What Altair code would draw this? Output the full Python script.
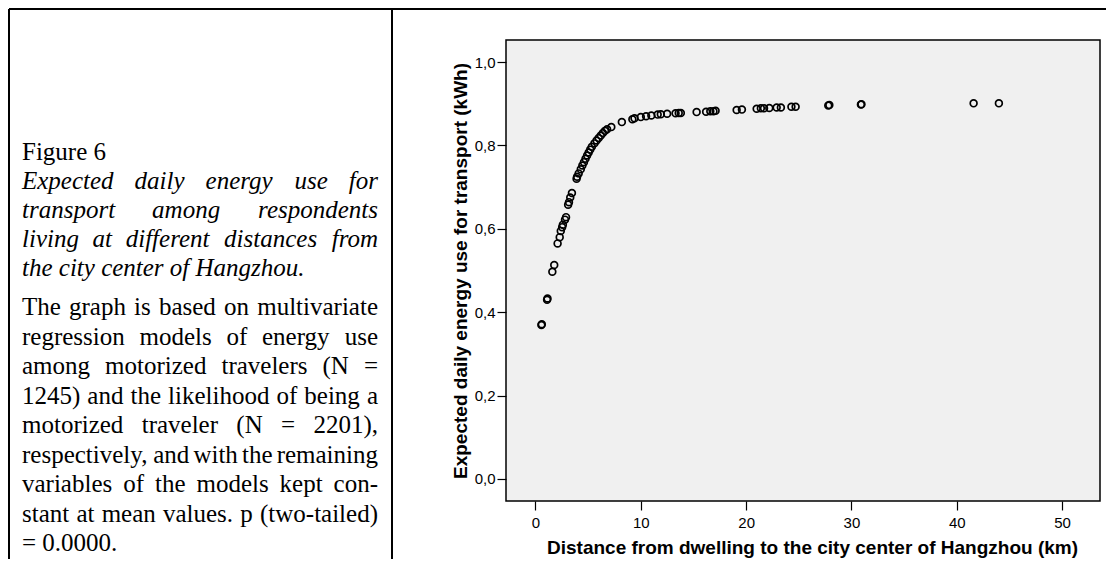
import altair as alt
import pandas as pd

# ---------------- data ----------------
distance_km = [0.56, 0.6, 1.1, 1.14, 1.6, 1.78, 2.1, 2.3, 2.4, 2.53, 2.6, 2.8, 2.9,
               3.1, 3.18, 3.3, 3.46, 3.9, 3.95, 4.1, 4.3, 4.45, 4.6, 4.75, 4.9, 5.05,
               5.2, 5.35, 5.6, 5.8, 6.0, 6.2, 6.4, 6.6, 6.8, 7.2, 8.2, 9.2, 9.4, 10.0,
               10.5, 11.0, 11.6, 11.9, 12.5, 13.3, 13.6, 13.8, 15.3, 16.2, 16.6, 16.9,
               17.1, 19.1, 19.6, 21.0, 21.4, 21.7, 22.2, 22.9, 23.3, 24.3, 24.7, 27.8,
               27.9, 30.9, 30.95, 41.6, 44.0]
energy_kwh = [0.369, 0.371, 0.430, 0.433, 0.497, 0.513, 0.565, 0.580, 0.595, 0.604,
              0.610, 0.622, 0.628, 0.658, 0.664, 0.675, 0.686, 0.720, 0.725, 0.733,
              0.743, 0.752, 0.760, 0.768, 0.776, 0.783, 0.790, 0.797, 0.805, 0.812,
              0.818, 0.824, 0.830, 0.835, 0.839, 0.844, 0.856, 0.863, 0.865, 0.868,
              0.870, 0.872, 0.874, 0.875, 0.876, 0.877, 0.878, 0.878, 0.880, 0.881,
              0.882, 0.882, 0.883, 0.885, 0.886, 0.888, 0.889, 0.889, 0.890, 0.891,
              0.891, 0.893, 0.893, 0.896, 0.897, 0.898, 0.899, 0.901, 0.901]
x_ticks = [0, 10, 20, 30, 40, 50]
y_ticks = [0.0, 0.2, 0.4, 0.6, 0.8, 1.0]
x_title = "Distance from dwelling to the city center of Hangzhou (km)"
y_title = "Expected daily energy use for transport (kWh)"

caption_head = "Figure 6"
caption_italic = ["Expected daily energy use for",
                  "transport among respondents",
                  "living at different distances from",
                  "the city center of Hangzhou."]
caption_body = ["The graph is based on multivariate",
                "regression models of energy use",
                "among motorized travelers (N =",
                "1245) and the likelihood of being a",
                "motorized traveler (N = 2201),",
                "respectively, and with the remaining",
                "variables of the models kept con-",
                "stant at mean values. p (two-tailed)",
                "= 0.0000."]

# ---------------- layout ----------------
PLOT_LEFT, PLOT_TOP = 506, 40
PLOT_W, PLOT_H = 594, 461
FONT_SIZE = 25
TEXT_L, TEXT_R = 22, 378

ROMAN = dict(zip("ABCDEFGHIJKLMNOPQRSTUVWXYZ",
                 [722, 667, 667, 722, 611, 556, 722, 722, 333, 389, 722, 611, 889,
                  722, 722, 556, 722, 667, 556, 611, 722, 722, 944, 722, 722, 611]))
ROMAN.update(dict(zip("abcdefghijklmnopqrstuvwxyz",
                      [444, 500, 444, 500, 444, 333, 500, 500, 278, 278, 500, 278, 778,
                       500, 500, 500, 500, 333, 389, 278, 500, 500, 722, 500, 500, 444])))
ROMAN.update({c: 500 for c in "0123456789"})
ROMAN.update({" ": 250, ",": 250, ".": 250, "-": 333, "(": 333, ")": 333, "=": 564})
ITALIC = dict(ROMAN)
ITALIC.update(dict(zip("abcdefghijklmnopqrstuvwxyz",
                       [500, 500, 444, 500, 444, 278, 500, 500, 278, 278, 444, 278, 722,
                        500, 500, 500, 500, 389, 389, 278, 500, 444, 667, 444, 444, 389])))


def width(word, table):
    return sum(table.get(c, 500) for c in word) / 1000 * FONT_SIZE


rows = []


def add_line(line, y, style, justify):
    table = ITALIC if style == "italic" else ROMAN
    words = line.split(" ")
    if not justify or len(words) == 1:
        rows.append(dict(word=line, px=TEXT_L - PLOT_LEFT, py=y - PLOT_TOP,
                         style=style, align="left"))
        return
    ws = [width(w, table) for w in words]
    gap = (TEXT_R - TEXT_L - sum(ws)) / (len(words) - 1)
    x = TEXT_L
    for i, w in enumerate(words):
        if i == len(words) - 1:
            rows.append(dict(word=w, px=TEXT_R - PLOT_LEFT, py=y - PLOT_TOP,
                             style=style, align="right"))
        else:
            rows.append(dict(word=w, px=x - PLOT_LEFT, py=y - PLOT_TOP,
                             style=style, align="left"))
        x += ws[i] + gap


add_line(caption_head, 152, "normal", False)
y = 152
for i, line in enumerate(caption_italic):
    y += 29
    add_line(line, y, "italic", i < len(caption_italic) - 1)
y += 39
for i, line in enumerate(caption_body):
    add_line(line, y, "normal", i < len(caption_body) - 1)
    y += 29.5

words = pd.DataFrame(rows)


def text_layer(style, align):
    d = words[(words["style"] == style) & (words["align"] == align)]
    return alt.Chart(d).mark_text(
        font="Liberation Serif", fontSize=FONT_SIZE, fontStyle=style,
        align=align, baseline="middle", color="black"
    ).encode(
        x=alt.X("px:Q", scale=None, axis=None),
        y=alt.Y("py:Q", scale=None, axis=None),
        text="word:N",
    )


texts = [text_layer(s, a) for s in ("normal", "italic") for a in ("left", "right")]

# ---------------- scatter ----------------
pts = pd.DataFrame({"distance": distance_km, "energy": energy_kwh})
scatter = alt.Chart(pts).mark_point(
    shape="circle", filled=False, color="black", size=46, strokeWidth=1.7, opacity=1
).encode(
    x=alt.X("distance:Q",
            scale=alt.Scale(domain=[-2.8, 53.6], nice=False, zero=False),
            axis=alt.Axis(values=x_ticks, title=x_title, format="d",
                          labelPadding=5, titlePadding=8, titleX=306)),
    y=alt.Y("energy:Q",
            scale=alt.Scale(domain=[-0.053, 1.053], nice=False, zero=False),
            axis=alt.Axis(values=y_ticks, title=y_title, labelPadding=2, titlePadding=4,
                          labelExpr="replace(format(datum.value, '.1f'), '.', ',')")),
)

# ---------------- frame lines of the figure box ----------------
L = 9 - PLOT_LEFT
T = 9 - PLOT_TOP
DIV = 392 - PLOT_LEFT
BOTTOM = 560
top_line = alt.Chart(pts).mark_rule(color="black", strokeWidth=2).encode(
    x=alt.value(L), x2=alt.value(700), y=alt.value(T))
left_line = alt.Chart(pts).mark_rule(color="black", strokeWidth=2).encode(
    x=alt.value(L), y=alt.value(T), y2=alt.value(BOTTOM))
div_line = alt.Chart(pts).mark_rule(color="black", strokeWidth=2).encode(
    x=alt.value(DIV), y=alt.value(T), y2=alt.value(BOTTOM))

chart = alt.layer(
    scatter, *texts, top_line, left_line, div_line
).resolve_scale(
    x="independent", y="independent"
).properties(
    width=PLOT_W, height=PLOT_H,
    autosize=alt.AutoSizeParams(type="none"),
    padding={"left": PLOT_LEFT - 8, "top": PLOT_TOP - 8, "right": 6, "bottom": 58},
    background="white",
).configure_view(
    fill="#F0F0F0", stroke="black", strokeWidth=1.5
).configure_axis(
    domain=False, grid=False, tickColor="black", tickSize=9, tickWidth=1.2,
    labelFont="Liberation Sans", labelFontSize=15, labelColor="black",
    titleFont="Liberation Sans", titleFontSize=19, titleFontWeight="bold",
    titleColor="black",
)

chart.save("out.html", embed_options={"renderer": "svg", "actions": False})
